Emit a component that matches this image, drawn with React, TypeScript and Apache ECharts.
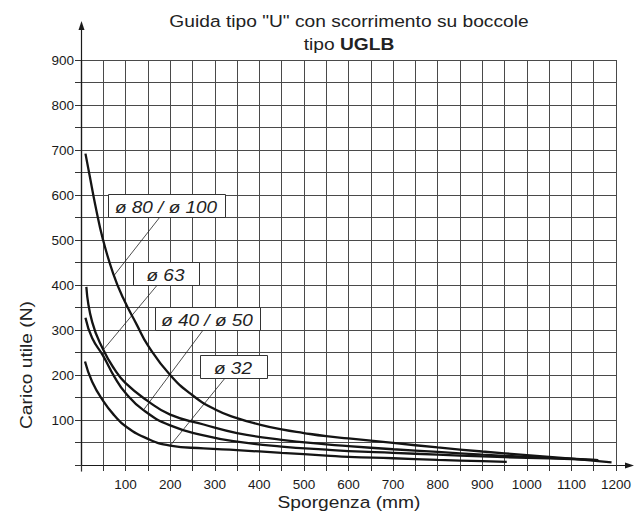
import React, { useEffect, useRef } from "react";
import * as echarts from "echarts";

// ---- axis ticks ----
const xMin = 0, xMax = 1200, xStep = 50;
const yMin = 0, yMax = 900, yStep = 50;

// ---- curves: Sporgenza (mm) -> Carico utile (N) ----
const d80X = [10, 20, 32, 49, 72, 94, 125, 150, 200, 250, 300, 350, 400, 450, 500, 550, 600, 700, 800, 900, 1000, 1100, 1190];
const d80Y = [692, 640, 578, 502, 426, 372, 312, 266, 200, 155, 124, 104, 90, 79, 71, 64, 59, 49, 39, 30, 22, 14, 6];

const d63X = [12, 25, 50, 75, 100, 150, 200, 275, 350, 450, 550, 600, 700, 800, 900, 1000, 1100, 1160];
const d63Y = [396, 318, 256, 213, 182, 142, 112, 90, 71, 56, 46, 42, 35, 29, 23, 18, 14, 11];

const d40X = [10, 25, 50, 75, 100, 140, 200, 275, 350, 450, 550, 600, 700, 800, 900, 1000, 1100, 1160];
const d40Y = [327, 282, 242, 196, 160, 122, 88, 66, 52, 41, 34, 31, 27, 23, 19, 16, 13, 11];

const d32X = [9, 25, 50, 75, 100, 150, 200, 275, 350, 450, 550, 600, 700, 800, 900, 955];
const d32Y = [230, 185, 142, 110, 86, 58, 43, 37, 33, 27, 21, 18, 15, 11.5, 8.5, 7];

// ---- label boxes (data units) ----
const boxLabels = ["ø 80 / ø 100", "ø 63", "ø 40 / ø 50", "ø 32"];
const boxX0 = [60, 117, 166, 268];
const boxX1 = [323, 265, 401, 418];
const boxYTop = [602, 452, 352, 244];
const boxYBot = [551, 401, 300, 193];

// ---- leader lines (from box to curve) ----
const leadFromX = [177, 172, 274, 323];
const leadFromY = [551, 401, 300, 193];
const leadToX = [74, 50, 140, 200];
const leadToY = [421, 256, 122, 43];

const FONT = "Liberation Sans, Arial, Helvetica, sans-serif";
const INK = "#1a1a1a";

const pairs = (xs: number[], ys: number[]) => xs.map((x, i) => [x, ys[i]]);

// layout
const G_LEFT = 81, G_TOP = 60, G_W = 535, G_H = 405;

export default function App() {
  const ref = useRef<HTMLDivElement>(null);
  useEffect(() => {
    if (!ref.current) return;
    const chart = echarts.init(ref.current, null, { renderer: "svg", width: 637, height: 518 });
    const curveStyle = { color: "#141414", width: 2.3 };
    const curve = (name: string, xs: number[], ys: number[]) => ({
      name,
      type: "line",
      data: pairs(xs, ys),
      smooth: 0.5,
      showSymbol: false,
      symbol: "none",
      silent: true,
      z: 4,
      lineStyle: curveStyle,
    });
    const leaders = leadFromX.map((fx, i) => ({
      type: "line",
      data: [[fx, leadFromY[i]], [leadToX[i], leadToY[i]]],
      showSymbol: false,
      symbol: "none",
      silent: true,
      z: 3,
      lineStyle: { color: "#222", width: 0.8 },
    }));
    const gx = G_LEFT + 0.5, gy = G_TOP + G_H + 0.5;
    const option: any = {
      animation: false,
      backgroundColor: "#ffffff",
      grid: { left: G_LEFT, top: G_TOP, width: G_W, height: G_H, containLabel: false },
      xAxis: {
        type: "value",
        min: xMin,
        max: xMax,
        interval: xStep,
        axisLine: { show: true, lineStyle: { color: INK, width: 1.2 } },
        axisTick: { show: true, length: 6, lineStyle: { color: "#333", width: 1 } },
        axisLabel: {
          margin: 12,
          fontFamily: FONT,
          fontSize: 13.5,
          color: INK,
          formatter: (v: number) => (v > 0 && v % 100 === 0 ? String(v) : ""),
        },
        splitLine: { show: true, lineStyle: { color: "#4a4a4a", width: 1 } },
      },
      yAxis: {
        type: "value",
        min: yMin,
        max: yMax,
        interval: yStep,
        axisLine: { show: true, lineStyle: { color: INK, width: 1.2 } },
        axisTick: { show: true, length: 6, lineStyle: { color: "#333", width: 1 } },
        axisLabel: {
          margin: 7,
          fontFamily: FONT,
          fontSize: 13.5,
          color: INK,
          formatter: (v: number) => (v > 0 && v % 100 === 0 ? String(v) : ""),
        },
        splitLine: { show: true, lineStyle: { color: "#4a4a4a", width: 1 } },
      },
      series: [
        curve("ø 80 / ø 100", d80X, d80Y),
        curve("ø 63", d63X, d63Y),
        curve("ø 40 / ø 50", d40X, d40Y),
        curve("ø 32", d32X, d32Y),
        ...leaders,
        {
          type: "custom",
          silent: true,
          z: 6,
          clip: false,
          data: boxLabels.map((_, i) => [boxX0[i], boxYTop[i], boxX1[i], boxYBot[i]]),
          renderItem: (params: any, api: any) => {
            const i = params.dataIndex;
            const p0 = api.coord([api.value(0), api.value(1)]);
            const p1 = api.coord([api.value(2), api.value(3)]);
            const x0 = Math.round(p0[0]) + 0.5, y0 = Math.round(p0[1]) + 0.5;
            const w = Math.round(p1[0] - p0[0]), h = Math.round(p1[1] - p0[1]);
            return {
              type: "group",
              children: [
                {
                  type: "rect",
                  shape: { x: x0, y: y0, width: w, height: h },
                  style: { fill: "#ffffff", stroke: "#333", lineWidth: 1 },
                },
                {
                  type: "text",
                  x: x0 + w / 2 - 1,
                  y: y0 + h / 2 + 1,
                  scaleX: 1.15,
                  style: {
                    text: boxLabels[i],
                    fontStyle: "italic",
                    fontSize: 16.5,
                    fontFamily: FONT,
                    fill: "#222",
                    textAlign: "center",
                    textVerticalAlign: "middle",
                  },
                },
              ],
            };
          },
        },
      ],
      graphic: [
        {
          type: "text",
          x: 349,
          y: 21,
          scaleX: 1.13,
          silent: true,
          style: {
            text: 'Guida tipo "U" con scorrimento su boccole',
            fontSize: 17,
            fontFamily: FONT,
            fill: "#222",
            textAlign: "center",
            textVerticalAlign: "middle",
          },
        },
        {
          type: "text",
          x: 349,
          y: 44,
          scaleX: 1.13,
          silent: true,
          style: {
            text: "{n|tipo }{b|UGLB}",
            fill: "#222",
            textAlign: "center",
            textVerticalAlign: "middle",
            rich: {
              n: { fontSize: 17, fontFamily: FONT, fill: "#222" },
              b: { fontSize: 17, fontFamily: FONT, fontWeight: "bold", fill: "#222" },
            },
          },
        },
        {
          type: "text",
          x: 26,
          y: 365,
          rotation: Math.PI / 2,
          scaleX: 1.13,
          silent: true,
          style: {
            text: "Carico utile (N)",
            fontSize: 17,
            fontFamily: FONT,
            fill: "#222",
            textAlign: "center",
            textVerticalAlign: "middle",
          },
        },
        {
          type: "text",
          x: 349,
          y: 502,
          scaleX: 1.13,
          silent: true,
          style: {
            text: "Sporgenza (mm)",
            fontSize: 17,
            fontFamily: FONT,
            fill: "#222",
            textAlign: "center",
            textVerticalAlign: "middle",
          },
        },
        // axis extensions and arrow heads
        { type: "line", silent: true, shape: { x1: gx, y1: gy + 6, x2: gx, y2: 28 }, style: { stroke: INK, lineWidth: 1.2 } },
        { type: "polygon", silent: true, shape: { points: [[gx, 21], [gx - 3, 30], [gx + 3, 30]] }, style: { fill: INK } },
        { type: "line", silent: true, shape: { x1: gx - 6, y1: gy, x2: 626, y2: gy }, style: { stroke: INK, lineWidth: 1.2 } },
        { type: "polygon", silent: true, shape: { points: [[634, gy], [625, gy - 3], [625, gy + 3]] }, style: { fill: INK } },
      ],
    };
    chart.setOption(option);
    return () => chart.dispose();
  }, []);
  return (
    <div
      ref={ref}
      style={{ position: "absolute", left: 0, top: 0, width: 637, height: 518, background: "#fff" }}
    />
  );
}
